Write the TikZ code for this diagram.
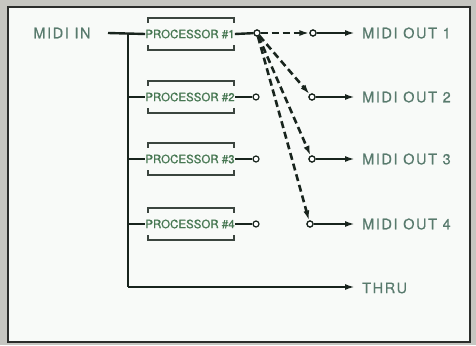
\documentclass[tikz,border=0pt]{standalone}
\usepackage{fontspec}
\usepackage{tikz}
\usepackage{xcolor}
\usetikzlibrary{arrows.meta,positioning,calc}
\newfontfamily\labelfont[LetterSpace=11,FakeBold=0.6]{TeX Gyre Heros}
\newfontfamily\procfont[FakeBold=0.9]{TeX Gyre Heros}
\definecolor{Outside}{HTML}{C6C6C1}
\definecolor{Sheet}{HTML}{F8FAF8}
\definecolor{Frame}{HTML}{2B2D2B}
\definecolor{Ink}{HTML}{18241D}
\definecolor{LabelGreen}{HTML}{587A6D}
\definecolor{ProcGreen}{HTML}{467752}
\tikzset{
  lbl/.style={font=\labelfont\fontsize{14.5}{15}\selectfont,text=LabelGreen,inner sep=0pt},
  proc/.style={font=\procfont\fontsize{11.5}{12}\selectfont,text=ProcGreen,inner sep=0pt,minimum width=84pt,minimum height=32pt},
  bracket/.style={draw=Ink!85,line width=1.5pt},
  wire/.style={draw=Ink,line width=2.4pt},
  arr/.style={-{Latex[length=10pt,width=6pt]},draw=Ink,line width=2.4pt},
  dasharr/.style={-{Latex[length=10pt,width=6pt]},draw=Ink,line width=2.6pt,dash pattern=on 7pt off 4pt},
  jack/.style={circle,draw=Ink,fill=white,line width=1.2pt,inner sep=0pt,minimum size=6pt}
}

\begin{document}
\begin{tikzpicture}[x=1pt,y=-1pt]
  \fill[Outside] (0,0) rectangle (476,345);
  \draw[Frame,fill=Sheet,line width=1.8pt] (8,7) rectangle (470,342);

  % input and bus
  \node[lbl] (midiin) at (62,33) {MIDI IN};
  \coordinate (busin) at (108,33);
  \coordinate (bustop) at (128,33);
  \coordinate (busbot) at (128,287);

  % processors
  \node[proc] (p1) at (190,34) {PROCESSOR \#1};
  \node[proc] (p2) at (190,97) {PROCESSOR \#2};
  \node[proc] (p3) at (190,159) {PROCESSOR \#3};
  \node[proc] (p4) at (190,224) {PROCESSOR \#4};
  \foreach \p in {p1,p2,p3,p4}{
    \draw[bracket] ([xshift=3pt,yshift=-5pt]\p.north west) -- ([xshift=3pt]\p.north west)
      -- ([xshift=-1pt]\p.north east) -- ([xshift=-1pt,yshift=-5pt]\p.north east);
    \draw[bracket] ([xshift=3pt,yshift=5pt]\p.south west) -- ([xshift=3pt]\p.south west)
      -- ([xshift=-1pt]\p.south east) -- ([xshift=-1pt,yshift=5pt]\p.south east);
  }

  % processor outputs
  \node[jack] (o1) at (257,33) {};
  \node[jack] (o2) at (256,97) {};
  \node[jack] (o3) at (256,159) {};
  \node[jack] (o4) at (256,224) {};

  % midi out jacks and labels
  \node[jack] (c1) at (313,33) {};
  \node[jack] (c2) at (312,97) {};
  \node[jack] (c3) at (312,159) {};
  \node[jack] (c4) at (310,224) {};
  \node[lbl,anchor=west] (out1) at (362,33) {MIDI OUT 1};
  \node[lbl,anchor=west] (out2) at (362,97) {MIDI OUT 2};
  \node[lbl,anchor=west] (out3) at (362,159) {MIDI OUT 3};
  \node[lbl,anchor=west] (out4) at (362,224) {MIDI OUT 4};
  \node[lbl,anchor=west] (thru) at (362,288) {THRU};

  \draw[wire] (busin) -- (p1.west);
  \draw[wire] (bustop) -- (busbot);
  \draw[wire] (busbot|-p2) -- (p2.west);
  \draw[wire] (busbot|-p3) -- (p3.west);
  \draw[wire] (busbot|-p4) -- (p4.west);
  \draw[arr,shorten >=7pt] (busbot) -- (thru.west|-busbot);

  \draw[wire] (p1.east) -- (o1);
  \draw[wire] (p2.east) -- (o2);
  \draw[wire] (p3.east) -- (o3);
  \draw[wire] (p4.east) -- (o4);

  \draw[dasharr] (o1) -- (c1);
  \draw[dasharr] (o1) -- (c2);
  \draw[dasharr] (o1) -- (c3);
  \draw[dasharr] (o1) -- (c4);

  \draw[arr,shorten >=7pt] (c1) -- (out1.west);
  \draw[arr,shorten >=7pt] (c2) -- (out2.west);
  \draw[arr,shorten >=7pt] (c3) -- (out3.west);
  \draw[arr,shorten >=7pt] (c4) -- (out4.west);

  \node[jack] at (o1) {};
  \node[jack] at (c1) {};
  \node[jack] at (c2) {};
  \node[jack] at (c3) {};
  \node[jack] at (c4) {};
\end{tikzpicture}
\end{document}
